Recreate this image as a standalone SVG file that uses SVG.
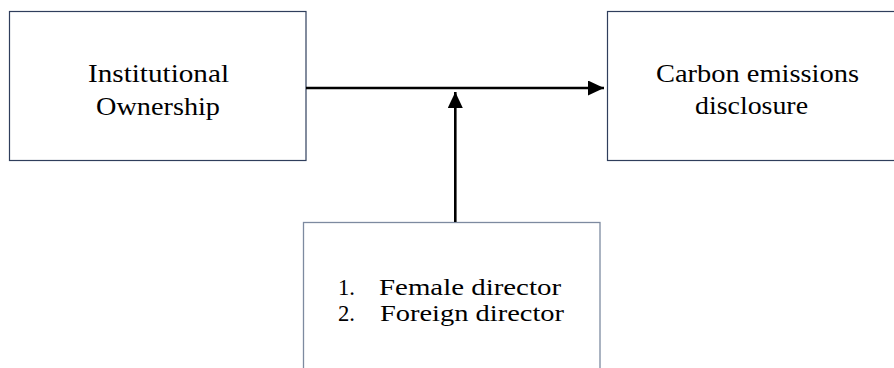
<svg xmlns="http://www.w3.org/2000/svg" width="894" height="368" viewBox="0 0 894 368">
<style>
.box{fill:#fff;stroke:#2f3e5c;stroke-width:1.2}
.box2{fill:#fff;stroke:#7d8aa0;stroke-width:1.3}
.c{stroke:#000;stroke-width:2.6;fill:none}
</style>
<defs>
<marker id="ah" viewBox="0 0 16 15" refX="16" refY="7.5" markerUnits="userSpaceOnUse" markerWidth="16" markerHeight="15" orient="auto">
<path d="M0,0 L16,7.5 L0,15 Z" fill="#000"/>
</marker>
</defs>
<rect width="894" height="368" fill="#fff"/>
<g font-family="Liberation Serif, Times New Roman, serif" font-size="26" fill="#000">
<g id="institutional-ownership">
<rect class="box" x="9.5" y="11.5" width="296.5" height="149"/>
<text x="88" y="82" textLength="141" lengthAdjust="spacingAndGlyphs">Institutional</text>
<text x="96" y="115" textLength="124" lengthAdjust="spacingAndGlyphs">Ownership</text>
</g>
<g id="carbon-emissions-disclosure">
<rect class="box" x="607.5" y="11.5" width="300" height="149"/>
<text x="656" y="82" textLength="203" lengthAdjust="spacingAndGlyphs">Carbon emissions</text>
<text x="695" y="114" textLength="113" lengthAdjust="spacingAndGlyphs">disclosure</text>
</g>
<g id="moderators" font-size="24">
<rect class="box2" x="303.5" y="222.5" width="296.5" height="160"/>
<text x="338" y="295" textLength="17" lengthAdjust="spacingAndGlyphs">1.</text>
<text x="379" y="295" textLength="182" lengthAdjust="spacingAndGlyphs">Female director</text>
<text x="338" y="321" textLength="17" lengthAdjust="spacingAndGlyphs">2.</text>
<text x="380" y="321" textLength="184" lengthAdjust="spacingAndGlyphs">Foreign director</text>
</g>
</g>
<g id="connectors">
<line class="c" x1="306" y1="88" x2="604" y2="88" marker-end="url(#ah)"/>
<line class="c" x1="455.3" y1="222" x2="455.3" y2="92" marker-end="url(#ah)"/>
</g>
</svg>
